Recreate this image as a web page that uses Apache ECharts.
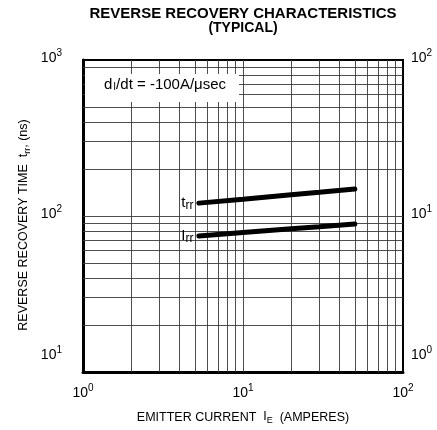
<!DOCTYPE html>
<html>
<head>
<meta charset="utf-8">
<script src="https://cdn.jsdelivr.net/npm/echarts@6/dist/echarts.min.js"></script>
<style>html,body{margin:0;padding:0;background:#fff;}#c{width:437px;height:430px;}</style>
</head>
<body>
<div id="c"></div>
<script>
// ---- data ----
const emitterCurrent = [5.3, 10, 20, 30, 50];          // A
const trrValues = [121, 128, 137, 142, 149];           // ns (left axis)
const irrValues = [7.45, 7.85, 8.3, 8.55, 8.9];        // A (right axis)
const xTickValues = [1, 10, 100];
const yLeftTickValues = [10, 100, 1000];
const yRightTickValues = [1, 10, 100];
const xGridValues = [2,3,4,5,6,7,8,9,10,20,30,40,50,60,70,80,90];
const yGridValues = [20,30,40,50,60,70,80,90,100,200,300,400,500,600,700,800,900];

const FONT = 'Liberation Sans, Arial, sans-serif';
function tok(fs, lh, pad) {
  const o = {fontSize: fs, fontFamily: FONT, color: '#000', lineHeight: lh, verticalAlign: 'bottom'};
  if (pad > 0) o.padding = [0, 0, pad, 0];
  return o;
}
const tickRich = {
  b: tok(14, 20, 5),
  s: tok(10, 10, 12),
  bl: tok(14, 20, 20),
  sl: tok(10, 10, 27)
};
function pow10Label(minVal) {
  return function (v) {
    const e = Math.round(Math.log10(v));
    if (Math.abs(v - minVal) < 1e-9) return '{bl|10}{sl|' + e + '}';
    return '{b|10}{s|' + e + '}';
  };
}
const subRich = {
  a: tok(15, 18, 2),
  s: tok(12, 12, 0)
};

const chart = echarts.init(document.getElementById('c'), null, {renderer: 'canvas'});

const gridLineStyle = {color: '#3a3a3a', width: 0.9, type: 'solid'};

const option = {
  backgroundColor: '#fff',
  animation: false,
  graphic: [
    {type: 'text', x: 243, y: 14, z: 3,
      style: {text: 'REVERSE RECOVERY CHARACTERISTICS', align: 'center', verticalAlign: 'middle',
        fontFamily: FONT, fontSize: 15, fontWeight: 'bold', fill: '#000'}},
    {type: 'text', x: 243, y: 28, z: 3,
      style: {text: '(TYPICAL)', align: 'center', verticalAlign: 'middle',
        fontFamily: FONT, fontSize: 14, fontWeight: 'bold', fill: '#000'}},
    {type: 'rect', left: 85, top: 74, shape: {width: 154, height: 28}, style: {fill: '#fff'}, z: 2},
    {type: 'text', left: 104, top: 77, z: 3,
      style: {text: '{a|d}{b|I}{a|/dt = -100A/μsec}', rich: {
        a: {fontFamily: FONT, fontSize: 15, fill: '#000', verticalAlign: 'bottom', lineHeight: 18},
        b: {fontFamily: FONT, fontSize: 10, fill: '#000', verticalAlign: 'bottom', lineHeight: 14, padding: [0,0,0,1]}}}},
    {type: 'text', x: 25, y: 225, rotation: Math.PI / 2, z: 3,
      style: {text: '{i|REVERSE RECOVERY TIME  t}{sub|rr}{i|, (ns)}', align: 'center', verticalAlign: 'middle',
        rich: {i: {fontFamily: FONT, fontSize: 12.5, fill: '#000', verticalAlign: 'bottom', lineHeight: 14, padding: [0,0,2,0]},
               sub: {fontFamily: FONT, fontSize: 9, fill: '#000', verticalAlign: 'bottom', lineHeight: 9}}}}
  ],
  grid: {left: 83, right: 34, top: 60, bottom: 56, show: true, borderColor: '#000', borderWidth: 2, backgroundColor: 'transparent'},
  xAxis: {
    type: 'log', logBase: 10, min: 1, max: 100,
    name: 'EMITTER CURRENT  {i|I}{sub|E}  (AMPERES)',
    nameLocation: 'middle', nameGap: 34,
    nameTextStyle: {fontFamily: FONT, fontSize: 12.5, color: '#000',
      rich: {i: tok(12.5, 14, 2), sub: tok(9, 9, 0)}},
    axisLine: {show: true, lineStyle: {color: '#000', width: 3}},
    axisTick: {show: false},
    splitLine: {show: false},
    axisLabel: {customValues: xTickValues, formatter: pow10Label(-1), rich: tickRich, margin: 13, showMinLabel: true, showMaxLabel: true}
  },
  yAxis: [{
    type: 'log', logBase: 10, min: 10, max: 1000,
    axisLine: {show: true, lineStyle: {color: '#000', width: 3}},
    axisTick: {show: false},
    splitLine: {show: false},
    axisLabel: {customValues: yLeftTickValues, formatter: pow10Label(10), rich: tickRich, margin: 21, showMinLabel: true, showMaxLabel: true}
  }, {
    type: 'log', logBase: 10, min: 1, max: 100, position: 'right',
    axisLine: {show: true, lineStyle: {color: '#000', width: 2}},
    axisTick: {show: false},
    splitLine: {show: false},
    axisLabel: {customValues: yRightTickValues, formatter: pow10Label(1), rich: tickRich, margin: 8, showMinLabel: true, showMaxLabel: true}
  }],
  series: [
    {
      type: 'line', data: [], xAxisIndex: 0, yAxisIndex: 0, z: 1, silent: true,
      markLine: {
        silent: true, symbol: 'none', z: 1, label: {show: false}, lineStyle: gridLineStyle, animation: false,
        emphasis: {disabled: true},
        data: xGridValues.map(v => ({xAxis: v})).concat(yGridValues.map(v => ({yAxis: v})))
      }
    },
    {
      name: 'trr', type: 'line', yAxisIndex: 0, z: 4,
      symbol: 'circle', symbolSize: 1, showSymbol: true,
      itemStyle: {color: '#000'},
      lineStyle: {color: '#000', width: 5, cap: 'round'},
      data: emitterCurrent.map((x, i) => {
        const d = {value: [x, trrValues[i]]};
        if (i === 0) d.label = {show: true, position: 'left', distance: 5, formatter: '{a|t}{s|rr}', rich: subRich};
        return d;
      })
    },
    {
      name: 'Irr', type: 'line', yAxisIndex: 1, z: 4,
      symbol: 'circle', symbolSize: 1, showSymbol: true,
      itemStyle: {color: '#000'},
      lineStyle: {color: '#000', width: 5, cap: 'round'},
      data: emitterCurrent.map((x, i) => {
        const d = {value: [x, irrValues[i]]};
        if (i === 0) d.label = {show: true, position: 'left', distance: 5, formatter: '{a|I}{s|rr}', rich: subRich};
        return d;
      })
    }
  ]
};
chart.setOption(option);
</script>
</body>
</html>
